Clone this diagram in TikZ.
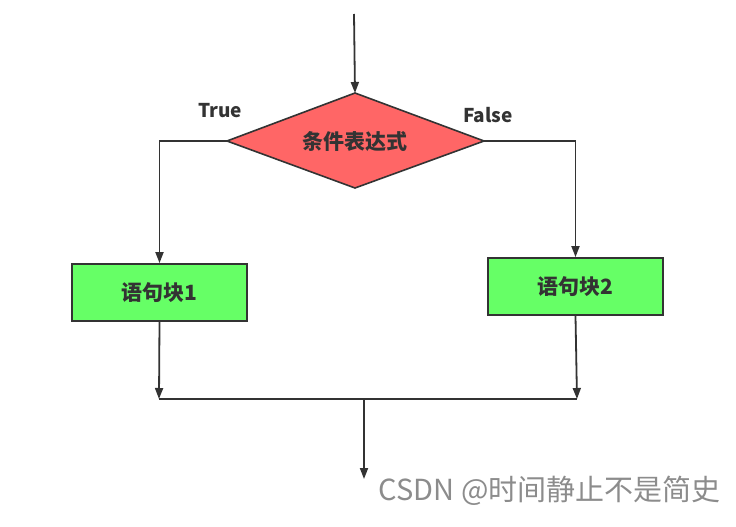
\documentclass[tikz,border=0pt]{standalone}
\usepackage{fontspec}
\setmainfont{Noto Sans CJK SC}
\usetikzlibrary{arrows.meta,shapes.geometric}
\definecolor{ln}{HTML}{333333}
\definecolor{redfill}{HTML}{FF6666}
\definecolor{greenfill}{HTML}{66FF66}
\tikzset{
  conn/.style={draw=ln,line width=1.8pt},
  arr/.style={conn,-{Triangle[length=11pt,width=8pt]}},
  blockbox/.style={draw=ln,line width=1.8pt,fill=greenfill,minimum width=175pt,minimum height=57pt,inner sep=0pt,font=\fontsize{21}{24}\selectfont\bfseries,text=ln},
  lbl/.style={font=\fontsize{19}{22}\selectfont\bfseries,text=ln}
}
\begin{document}
\begin{tikzpicture}[x=1pt,y=-1pt]
\useasboundingbox (0,0) rectangle (736,527);
\coordinate (start) at (354,14);
\coordinate (dt) at (355,93);
\coordinate (dl) at (227,141);
\coordinate (dr) at (484,141);
\coordinate (db) at (355,188);
\path[draw=ln,line width=1.6pt,fill=redfill,line join=miter] (dt) -- (dr) -- (db) -- (dl) -- cycle;
\node[font=\fontsize{21}{24}\selectfont\bfseries,text=ln] (cond) at (355,142) {条件表达式};
\node[blockbox] (b1) at (159.5,292.5) {语句块1};
\node[blockbox] (b2) at (575.5,286.5) {语句块2};
\node[lbl] (t) at (220,111) {True};
\node[lbl] (f) at (488,115) {False};
\coordinate (jl) at (159,399);
\coordinate (jr) at (577,399);
\coordinate (jm) at (364,399);
\coordinate (endp) at (364,479);
\draw[arr] (start) -- (dt);
\draw[arr] (dl) -| (b1.north);
\draw[arr] (dr) -| (b2.north);
\draw[arr] (b1.south) -- (jl);
\draw[arr] (b2.south) -- (jr);
\draw[conn] (jl) -- (jr);
\draw[arr] (jm) -- (endp);
\node[font=\fontsize{29}{33}\selectfont,text=black!45,anchor=east,inner sep=0pt] (wm) at (721,491) {CSDN @时间静止不是简史};
\end{tikzpicture}
\end{document}
